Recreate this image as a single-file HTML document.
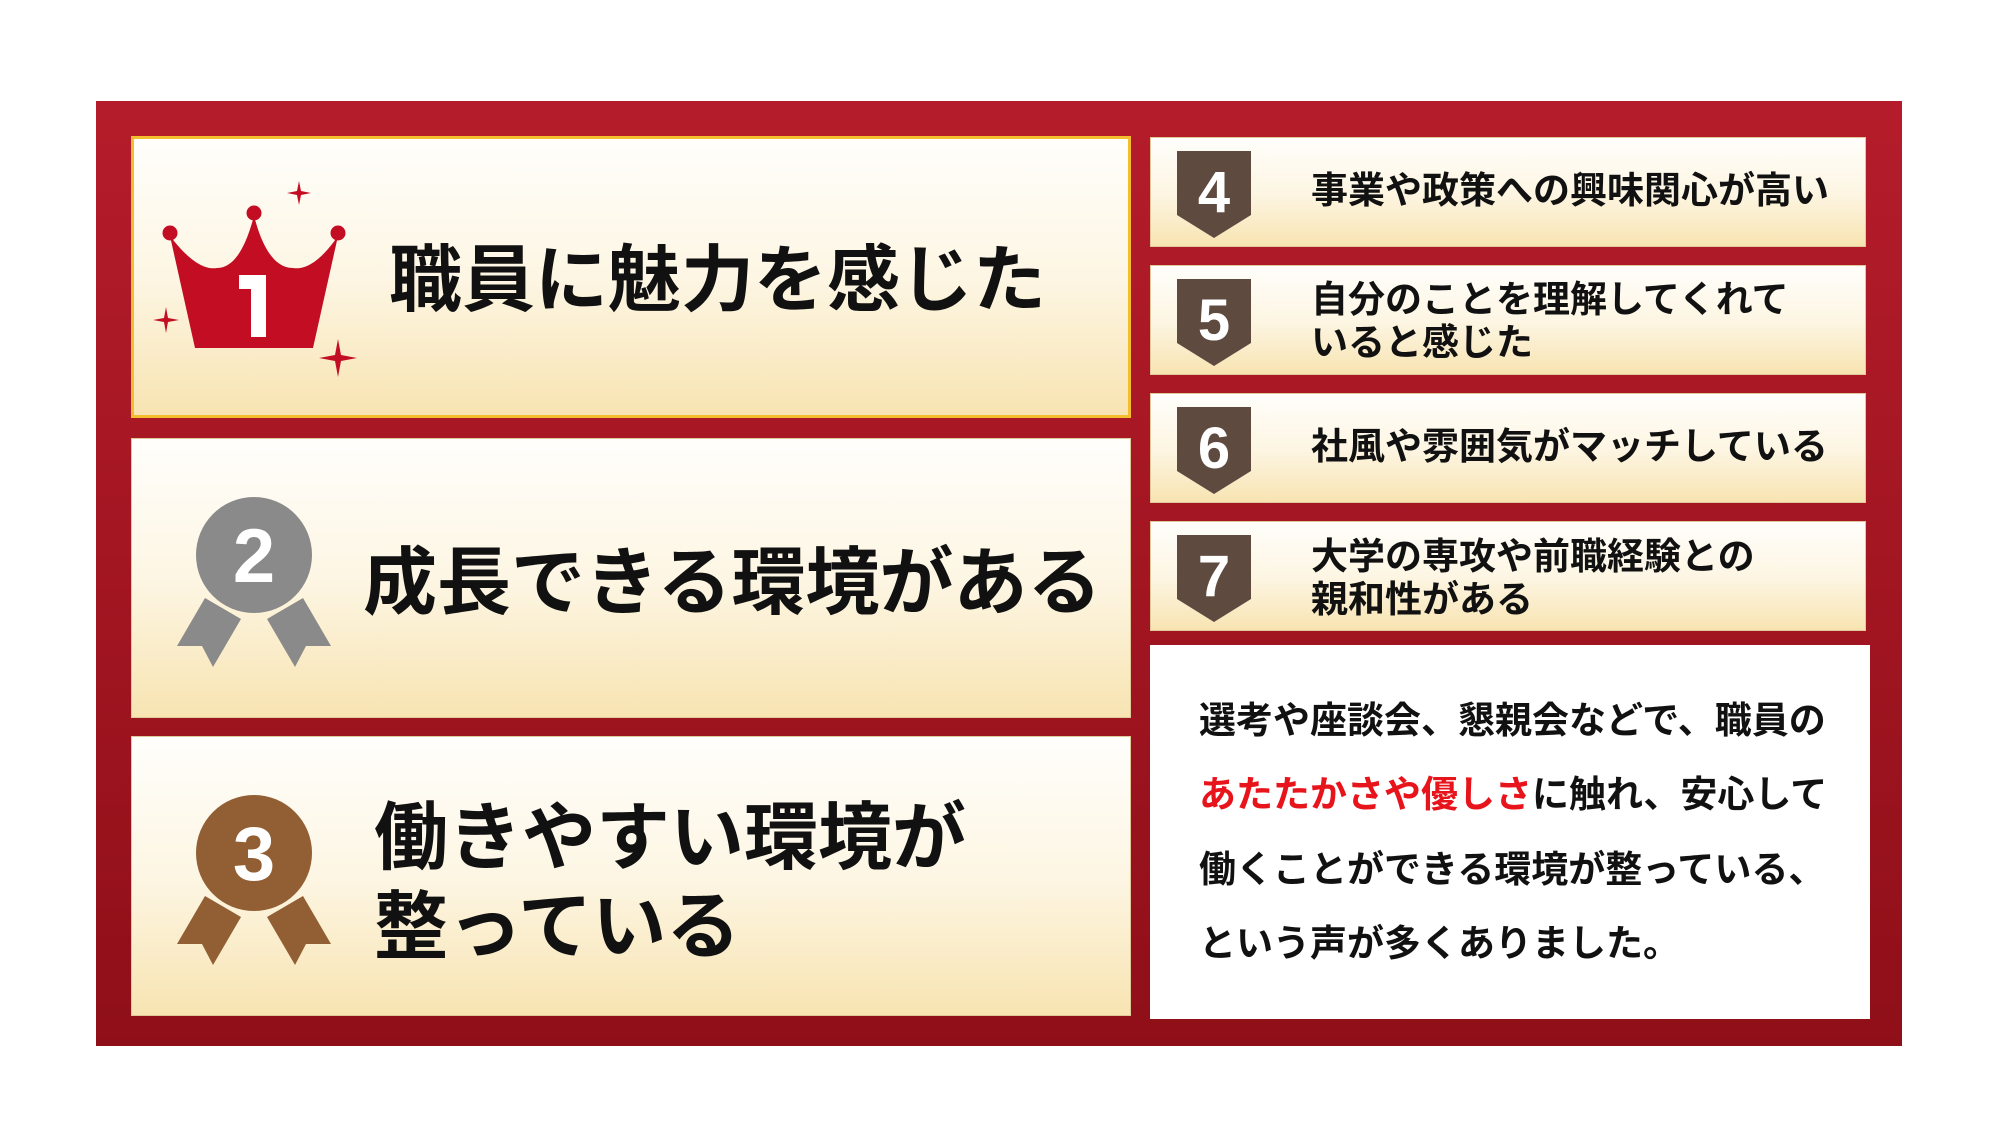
<!DOCTYPE html>
<html><head><meta charset="utf-8"><style>
body{margin:0;width:2000px;height:1125px;background:#fff;position:relative;overflow:hidden;font-family:"Liberation Sans","Noto Sans CJK JP",sans-serif}
.a{position:absolute}
.frame{left:96px;top:101px;width:1806px;height:945px;background:linear-gradient(#b51c2b,#8f0f18)}
.p{position:absolute;background:linear-gradient(#fffefb 0%,#fdf6e4 50%,#f8e4b2 100%);box-sizing:border-box;border:1px solid #e0c89a}
.t{position:absolute;white-space:nowrap;font-weight:bold;color:#111;line-height:1}
.big{font-size:73px}
.sm{font-size:37px;font-weight:bold}
</style></head><body>
<div class="a frame"></div>
<div class="p" style="left:131px;top:136px;width:1000px;height:282px;border:3px solid #f3bd2e"></div>
<div class="p" style="left:131px;top:438px;width:1000px;height:280px"></div>
<div class="p" style="left:131px;top:736px;width:1000px;height:280px"></div>
<div class="p" style="left:1150px;top:137px;width:716px;height:110px"></div>
<div class="p" style="left:1150px;top:265px;width:716px;height:110px"></div>
<div class="p" style="left:1150px;top:393px;width:716px;height:110px"></div>
<div class="p" style="left:1150px;top:521px;width:716px;height:110px"></div>
<div class="a" style="left:1150px;top:645px;width:720px;height:374px;background:#fff"></div>

<svg class="a" style="left:0;top:0" width="2000" height="1125">
 <!-- crown -->
 <g fill="#c20d23">
  <path d="M170,236 C190,262 205,270 217,268 C240,268 250,230 254,216 C258,230 268,268 293,268 C305,270 320,262 338,236 L313,348 L195,348 Z"/>
  <circle cx="170" cy="233" r="7.5"/><circle cx="254" cy="213" r="7.5"/><circle cx="338" cy="233" r="7.5"/>
  <path d="M299,181 L301,191 L311,193 L301,195 L299,205 L297,195 L287,193 L297,191Z"/>
  <path d="M166,307 L168,318 L179,320 L168,322 L166,333 L164,322 L153,320 L164,318Z"/>
  <path d="M338,339 L341,355 L357,358 L341,361 L338,377 L335,361 L319,358 L335,355Z"/>
 </g>
 <path d="M239,275 L266,275 L266,337 L251,337 L251,289 L239,289Z" fill="#fff"/>
 <!-- medals -->
 <g fill="#8a8a8a">
  <circle cx="254" cy="555" r="58"/>
  <polygon points="205,598 241,619 213,667 202,646 177,646"/>
  <polygon points="303,598 267,619 295,667 306,646 331,646"/>
 </g>
 <g fill="#925e33">
  <circle cx="254" cy="853" r="58"/>
  <polygon points="205,896 241,917 213,965 202,944 177,944"/>
  <polygon points="303,896 267,917 295,965 306,944 331,944"/>
 </g>
 <text x="254" y="582" font-size="76" font-weight="bold" fill="#fff" text-anchor="middle" font-family="Liberation Sans">2</text>
 <text x="254" y="880" font-size="76" font-weight="bold" fill="#fff" text-anchor="middle" font-family="Liberation Sans">3</text>
 <!-- badges -->
 <g fill="#5e4a3f">
  <polygon points="1177,151 1251,151 1251,215 1214,238 1177,215"/>
  <polygon points="1177,279 1251,279 1251,343 1214,366 1177,343"/>
  <polygon points="1177,407 1251,407 1251,471 1214,494 1177,471"/>
  <polygon points="1177,535 1251,535 1251,599 1214,622 1177,599"/>
 </g>
 <g fill="#fff" font-size="58" font-weight="bold" text-anchor="middle" font-family="Liberation Sans">
  <text x="1214" y="212">4</text><text x="1214" y="340">5</text><text x="1214" y="468">6</text><text x="1214" y="596">7</text>
 </g>
</svg>

<div class="t big" style="left:389px;top:244px">職員に魅力を感じた</div>
<div class="t big" style="left:363px;top:546px;font-size:74px">成長できる環境がある</div>
<div class="t big" style="left:374px;top:801px;font-size:74px">働きやすい環境が</div>
<div class="t big" style="left:374px;top:890px;font-size:74px">整っている</div>

<div class="t sm" style="left:1311px;top:172px">事業や政策への興味関心が高い</div>
<div class="t sm" style="left:1311px;top:281px">自分のことを理解してくれて</div>
<div class="t sm" style="left:1311px;top:324px">いると感じた</div>
<div class="t sm" style="left:1311px;top:428px">社風や雰囲気がマッチしている</div>
<div class="t sm" style="left:1311px;top:538px">大学の専攻や前職経験との</div>
<div class="t sm" style="left:1311px;top:581px">親和性がある</div>

<div class="t sm" style="left:1199px;top:702px">選考や座談会、懇親会などで、職員の</div>
<div class="t sm" style="left:1199px;top:776px"><span style="color:#e8141c">あたたかさや優しさ</span>に触れ、安心して</div>
<div class="t sm" style="left:1199px;top:851px">働くことができる環境が整っている、</div>
<div class="t sm" style="left:1199px;top:925px">という声が多くありました。</div>
</body></html>
